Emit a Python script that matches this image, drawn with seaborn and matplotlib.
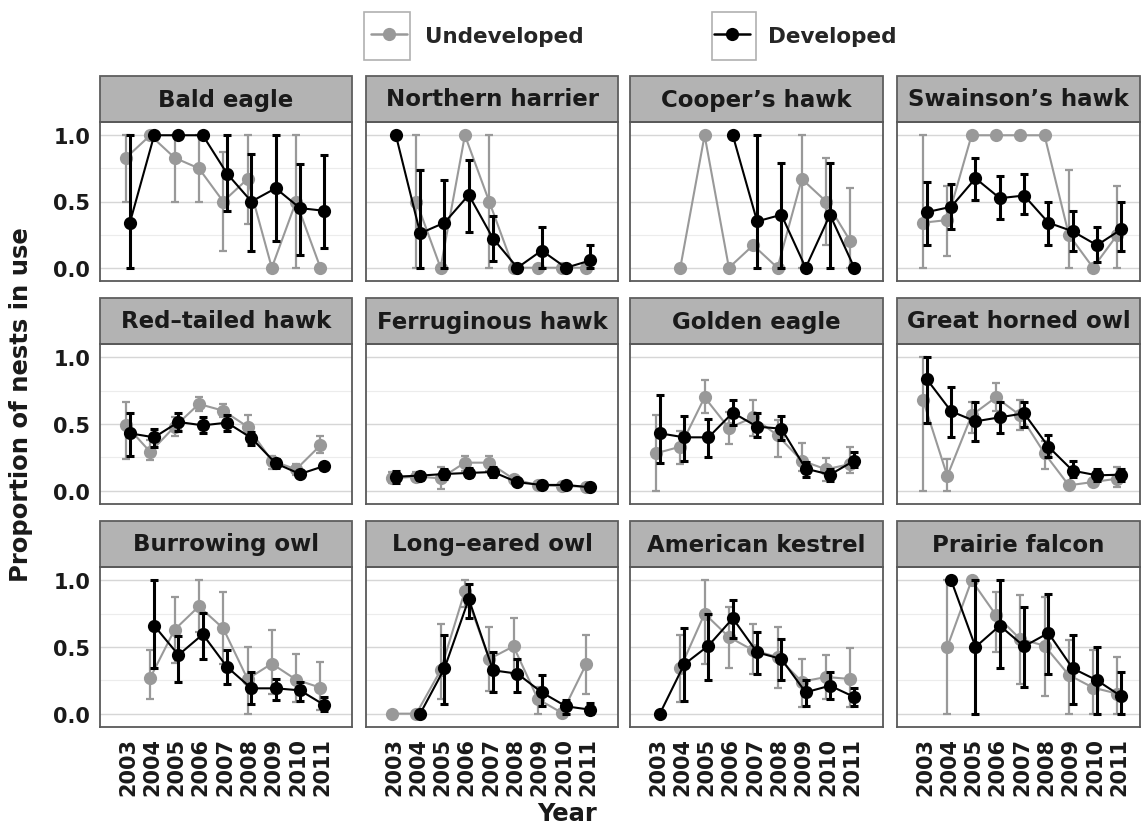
import numpy as np
import pandas as pd
import matplotlib
matplotlib.use("Agg")
import matplotlib.pyplot as plt
import seaborn as sns
from matplotlib.patches import Rectangle
from matplotlib.lines import Line2D

nan = np.nan

# ---------------- data ----------------
YEARS = [2003, 2004, 2005, 2006, 2007, 2008, 2009, 2010, 2011]
SITES = ["Undeveloped", "Developed"]
SPECIES = ["Bald eagle", "Northern harrier", "Cooper\u2019s hawk", "Swainson\u2019s hawk",
           "Red\u2013tailed hawk", "Ferruginous hawk", "Golden eagle", "Great horned owl",
           "Burrowing owl", "Long\u2013eared owl", "American kestrel", "Prairie falcon"]
Y_TICKS = [0.0, 0.5, 1.0]
Y_TICK_LABELS = ["0.0", "0.5", "1.0"]

bald_u    = [0.83, 1.0, 0.83, 0.75, 0.5, 0.67, 0.0, 0.5, 0.0]
bald_u_lo = [0.5, nan, 0.5, 0.5, 0.13, 0.33, nan, 0.0, nan]
bald_u_hi = [1.0, nan, 1.0, 1.0, 0.87, 1.0, nan, 1.0, nan]
bald_d    = [0.34, 1.0, 1.0, 1.0, 0.71, 0.5, 0.6, 0.45, 0.43]
bald_d_lo = [0.0, nan, nan, nan, 0.43, 0.13, 0.2, 0.1, 0.15]
bald_d_hi = [1.0, nan, nan, nan, 1.0, 0.86, 1.0, 0.78, 0.85]

harrier_u    = [nan, 0.5, 0.0, 1.0, 0.5, 0.0, 0.0, 0.0, 0.0]
harrier_u_lo = [nan, 0.0, nan, nan, 0.0, nan, nan, nan, nan]
harrier_u_hi = [nan, 1.0, nan, nan, 1.0, nan, nan, nan, nan]
harrier_d    = [1.0, 0.26, 0.34, 0.55, 0.22, 0.0, 0.13, 0.0, 0.055]
harrier_d_lo = [nan, 0.0, 0.0, 0.27, 0.05, nan, 0.0, nan, 0.0]
harrier_d_hi = [nan, 0.74, 0.66, 0.81, 0.39, nan, 0.31, nan, 0.17]

cooper_u    = [nan, 0.0, 1.0, 0.0, 0.17, 0.0, 0.67, 0.5, 0.2]
cooper_u_lo = [nan, nan, nan, nan, nan, nan, 0.0, 0.17, 0.0]
cooper_u_hi = [nan, nan, nan, nan, nan, nan, 1.0, 0.83, 0.6]
cooper_d    = [nan, nan, nan, 1.0, 0.35, 0.4, 0.0, 0.4, 0.0]
cooper_d_lo = [nan, nan, nan, nan, 0.0, 0.0, nan, 0.0, nan]
cooper_d_hi = [nan, nan, nan, nan, 1.0, 0.79, nan, 0.79, nan]

swainson_u    = [0.34, 0.36, 1.0, 1.0, 1.0, 1.0, 0.25, 0.0, 0.25]
swainson_u_lo = [0.0, 0.09, nan, nan, nan, nan, 0.0, nan, 0.0]
swainson_u_hi = [1.0, 0.62, nan, nan, nan, nan, 0.74, nan, 0.62]
swainson_d    = [0.42, 0.46, 0.675, 0.525, 0.545, 0.34, 0.275, 0.17, 0.29]
swainson_d_lo = [0.17, 0.295, 0.51, 0.37, 0.405, 0.17, 0.125, 0.04, 0.125]
swainson_d_hi = [0.645, 0.63, 0.83, 0.69, 0.71, 0.5, 0.425, 0.305, 0.5]

redtail_u    = [0.49, 0.29, 0.48, 0.65, 0.60, 0.48, 0.225, 0.16, 0.34]
redtail_u_lo = [0.24, 0.23, 0.41, 0.60, 0.55, 0.43, 0.16, 0.12, 0.28]
redtail_u_hi = [0.665, 0.38, 0.55, 0.70, 0.65, 0.565, 0.26, 0.2, 0.41]
redtail_d    = [0.43, 0.40, 0.515, 0.49, 0.51, 0.395, 0.205, 0.125, 0.185]
redtail_d_lo = [0.26, 0.33, 0.45, 0.43, 0.45, 0.34, 0.17, 0.1, 0.16]
redtail_d_hi = [0.58, 0.46, 0.585, 0.55, 0.565, 0.44, 0.24, 0.15, 0.21]

ferrug_u    = [0.093, 0.105, 0.093, 0.21, 0.21, 0.088, 0.04, 0.035, 0.03]
ferrug_u_lo = [0.06, 0.07, 0.01, 0.15, 0.15, 0.06, 0.025, 0.02, 0.02]
ferrug_u_hi = [0.14, 0.14, 0.175, 0.26, 0.26, 0.11, 0.055, 0.05, 0.04]
ferrug_d    = [0.105, 0.113, 0.125, 0.133, 0.14, 0.063, 0.043, 0.043, 0.025]
ferrug_d_lo = [0.06, 0.08, 0.09, 0.1, 0.1, 0.045, 0.03, 0.03, 0.015]
ferrug_d_hi = [0.15, 0.14, 0.16, 0.17, 0.18, 0.08, 0.055, 0.055, 0.035]

golden_u    = [0.28, 0.33, 0.70, 0.47, 0.55, 0.415, 0.225, 0.16, 0.2]
golden_u_lo = [0.0, 0.2, 0.58, 0.35, 0.41, 0.255, 0.15, 0.075, 0.13]
golden_u_hi = [0.565, 0.45, 0.83, 0.59, 0.68, 0.53, 0.36, 0.245, 0.33]
golden_d    = [0.43, 0.40, 0.40, 0.585, 0.48, 0.465, 0.165, 0.12, 0.225]
golden_d_lo = [0.205, 0.225, 0.255, 0.49, 0.40, 0.38, 0.105, 0.075, 0.175]
golden_d_hi = [0.715, 0.56, 0.54, 0.68, 0.58, 0.56, 0.215, 0.165, 0.29]

ghowl_u    = [0.68, 0.11, 0.565, 0.70, 0.565, 0.28, 0.04, 0.065, 0.09]
ghowl_u_lo = [0.0, 0.0, 0.43, 0.6, 0.455, 0.16, 0.02, 0.04, 0.03]
ghowl_u_hi = [1.0, 0.24, 0.665, 0.81, 0.68, 0.375, 0.06, 0.09, 0.175]
ghowl_d    = [0.835, 0.595, 0.52, 0.55, 0.58, 0.33, 0.15, 0.115, 0.12]
ghowl_d_lo = [0.51, 0.40, 0.375, 0.43, 0.475, 0.255, 0.1, 0.075, 0.075]
ghowl_d_hi = [1.0, 0.775, 0.665, 0.665, 0.665, 0.42, 0.225, 0.165, 0.165]

burrow_u    = [nan, 0.27, 0.63, 0.805, 0.64, 0.26, 0.375, 0.255, 0.195]
burrow_u_lo = [nan, 0.11, 0.38, 0.61, 0.375, 0.0, 0.15, 0.09, 0.025]
burrow_u_hi = [nan, 0.475, 0.875, 1.0, 0.91, 0.5, 0.63, 0.45, 0.39]
burrow_d    = [nan, 0.66, 0.44, 0.595, 0.35, 0.19, 0.19, 0.175, 0.065]
burrow_d_lo = [nan, 0.34, 0.24, 0.41, 0.225, 0.07, 0.1, 0.095, 0.02]
burrow_d_hi = [nan, 1.0, 0.58, 0.755, 0.475, 0.31, 0.26, 0.24, 0.125]

leowl_u    = [0.0, 0.0, 0.325, 0.92, 0.41, 0.505, 0.11, 0.005, 0.375]
leowl_u_lo = [nan, nan, 0.11, 0.8, 0.17, 0.3, 0.0, nan, 0.15]
leowl_u_hi = [nan, nan, 0.675, 1.0, 0.65, 0.72, 0.2, nan, 0.59]
leowl_d    = [nan, 0.0, 0.34, 0.86, 0.325, 0.3, 0.16, 0.055, 0.03]
leowl_d_lo = [nan, nan, 0.075, 0.72, 0.16, 0.16, 0.06, 0.0, 0.0]
leowl_d_hi = [nan, nan, 0.59, 0.975, 0.46, 0.41, 0.29, 0.1, 0.08]

kestrel_u    = [nan, 0.34, 0.75, 0.575, 0.475, 0.425, 0.24, 0.275, 0.26]
kestrel_u_lo = [nan, 0.09, 0.375, 0.34, 0.3, 0.19, 0.05, 0.11, 0.05]
kestrel_u_hi = [nan, 0.59, 1.0, 0.8, 0.675, 0.65, 0.41, 0.44, 0.495]
kestrel_d    = [0.0, 0.37, 0.51, 0.715, 0.46, 0.41, 0.16, 0.21, 0.125]
kestrel_d_lo = [nan, 0.095, 0.255, 0.57, 0.3, 0.25, 0.06, 0.11, 0.055]
kestrel_d_hi = [nan, 0.64, 0.75, 0.85, 0.61, 0.56, 0.25, 0.31, 0.19]

prairie_u    = [nan, 0.5, 1.0, 0.74, 0.56, 0.51, 0.29, 0.195, 0.15]
prairie_u_lo = [nan, 0.0, nan, 0.46, 0.225, 0.13, 0.0, 0.0, 0.0]
prairie_u_hi = [nan, 1.0, nan, 0.91, 0.89, 0.875, 0.55, 0.475, 0.425]
prairie_d    = [nan, 1.0, 0.5, 0.66, 0.505, 0.605, 0.34, 0.25, 0.13]
prairie_d_lo = [nan, nan, 0.0, 0.34, 0.2, 0.3, 0.075, 0.0, 0.0]
prairie_d_hi = [nan, nan, 1.0, 1.0, 0.8, 0.9, 0.59, 0.5, 0.31]

PANEL_DATA = [
    (bald_u, bald_u_lo, bald_u_hi, bald_d, bald_d_lo, bald_d_hi),
    (harrier_u, harrier_u_lo, harrier_u_hi, harrier_d, harrier_d_lo, harrier_d_hi),
    (cooper_u, cooper_u_lo, cooper_u_hi, cooper_d, cooper_d_lo, cooper_d_hi),
    (swainson_u, swainson_u_lo, swainson_u_hi, swainson_d, swainson_d_lo, swainson_d_hi),
    (redtail_u, redtail_u_lo, redtail_u_hi, redtail_d, redtail_d_lo, redtail_d_hi),
    (ferrug_u, ferrug_u_lo, ferrug_u_hi, ferrug_d, ferrug_d_lo, ferrug_d_hi),
    (golden_u, golden_u_lo, golden_u_hi, golden_d, golden_d_lo, golden_d_hi),
    (ghowl_u, ghowl_u_lo, ghowl_u_hi, ghowl_d, ghowl_d_lo, ghowl_d_hi),
    (burrow_u, burrow_u_lo, burrow_u_hi, burrow_d, burrow_d_lo, burrow_d_hi),
    (leowl_u, leowl_u_lo, leowl_u_hi, leowl_d, leowl_d_lo, leowl_d_hi),
    (kestrel_u, kestrel_u_lo, kestrel_u_hi, kestrel_d, kestrel_d_lo, kestrel_d_hi),
    (prairie_u, prairie_u_lo, prairie_u_hi, prairie_d, prairie_d_lo, prairie_d_hi),
]

# ---------------- style ----------------
sns.set_theme(style="white")
plt.rcParams["font.family"] = ["DejaVu Sans"]
plt.rcParams["font.weight"] = "bold"

COLORS = {"Undeveloped": "#999999", "Developed": "#000000"}
DODGE = {"Undeveloped": -0.08, "Developed": 0.08}
ELW = {"Undeveloped": 1.6, "Developed": 2.2}
TXT = "#1a1a1a"

W, H = 1141, 828
fig = plt.figure(figsize=(W / 100, H / 100), dpi=100)

COLS = [(100, 352), (366, 618), (630, 883), (897, 1140)]
ROWS = [(123, 282), (345, 505), (568, 728)]
STRIP_PX = 46
PX_PER_YEAR = 24.3
X0 = 2001.85

for i, name in enumerate(SPECIES):
    r, c = divmod(i, 4)
    xl, xr = COLS[c]
    yt, yb = ROWS[r]
    ax = fig.add_axes([xl / W, 1 - yb / H, (xr - xl) / W, (yb - yt) / H])
    u, u_lo, u_hi, d, d_lo, d_hi = PANEL_DATA[i]
    frames = []
    for site, v, lo, hi in (("Undeveloped", u, u_lo, u_hi), ("Developed", d, d_lo, d_hi)):
        frames.append(pd.DataFrame({"year": YEARS, "site": site, "value": v, "lo": lo, "hi": hi}))
    df = pd.concat(frames, ignore_index=True)
    df["pos"] = df["year"] + df["site"].map(DODGE)

    z = 2
    for site in SITES:
        sub = df[df["site"] == site]
        eb = sub.dropna(subset=["lo", "hi", "value"])
        ax.errorbar(eb["pos"], eb["value"],
                    yerr=[eb["value"] - eb["lo"], eb["hi"] - eb["value"]],
                    fmt="none", ecolor=COLORS[site], elinewidth=ELW[site],
                    capsize=2.8, capthick=ELW[site], zorder=z)
        sns.lineplot(data=sub.dropna(subset=["value"]), x="pos", y="value",
                     color=COLORS[site], marker="o", markersize=9.5,
                     markeredgewidth=0, linewidth=1.5, estimator=None,
                     sort=True, legend=False, ax=ax, zorder=z + 1)
        z += 2

    ax.set_xlim(X0, X0 + (xr - xl) / PX_PER_YEAR)
    ax.set_ylim(-0.1, 1.1)
    ax.set_xticks(YEARS)
    ax.set_yticks(Y_TICKS)
    ax.set_yticks([0.25, 0.75], minor=True)
    ax.grid(axis="y", which="major", color="#d6d6d6", linewidth=1.0)
    ax.grid(axis="y", which="minor", color="#ececec", linewidth=0.8)
    ax.grid(axis="x", visible=False)
    ax.set_axisbelow(True)
    ax.set_xlabel("")
    ax.set_ylabel("")
    for sp in ax.spines.values():
        sp.set_color("#595959")
        sp.set_linewidth(1.3)
    ax.tick_params(axis="both", which="major", direction="out", length=5,
                   width=1.5, color="#333333", labelsize=15, pad=2,
                   labelcolor=TXT)
    ax.tick_params(axis="both", which="minor", length=0)
    if c == 0:
        ax.set_yticklabels(Y_TICK_LABELS, fontweight="bold")
    else:
        ax.tick_params(axis="y", which="major", length=0, labelleft=False)
    if r == 2:
        ax.set_xticklabels([str(y) for y in YEARS], rotation=90, fontweight="bold")
    else:
        ax.tick_params(axis="x", which="major", length=0, labelbottom=False)

    # strip
    sh = STRIP_PX / (yb - yt)
    ax.add_patch(Rectangle((0, 1), 1, sh, transform=ax.transAxes, clip_on=False,
                           facecolor="#b3b3b3", edgecolor="#5e5e5e", linewidth=1.3))
    ax.text(0.5, 1 + sh / 2, name, transform=ax.transAxes, ha="center", va="center",
            fontsize=16.5, fontweight="bold", color=TXT)

# axis titles
fig.text(21 / W, 1 - 405 / H, "Proportion of nests in use", rotation=90,
         ha="center", va="center", fontsize=17.5, fontweight="bold", color=TXT)
fig.text(567 / W, 1 - 814 / H, "Year", ha="center", va="center",
         fontsize=17.5, fontweight="bold", color=TXT)

# legend
handles = [Line2D([0], [0], color=COLORS[s], marker="o", markersize=9.5,
                  markeredgewidth=0, linewidth=1.8) for s in SITES]
for (bx, bw) in ((364, 46), (712, 44)):
    fig.add_artist(Rectangle((bx / W, 1 - 61 / H), bw / W, 48 / H,
                             transform=fig.transFigure, fill=False,
                             edgecolor="#b0b0b0", linewidth=1.2, zorder=0))
fig.legend(handles, SITES, loc="center left", bbox_to_anchor=(371 / W, 1 - 37 / H),
           frameon=False, ncol=2, handlelength=1.67, handletextpad=0.84,
           columnspacing=6.05, borderpad=0, borderaxespad=0,
           prop={"size": 15.5, "weight": "bold"})

fig.savefig("out.png", dpi=100)
